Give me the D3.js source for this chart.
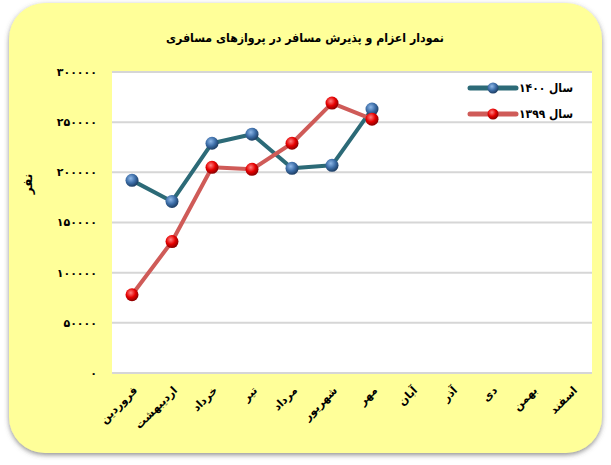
<!DOCTYPE html>
<html><head><meta charset="utf-8">
<script src="https://cdn.jsdelivr.net/npm/d3@7"></script>
<style>body{margin:0;background:#fff;}svg{display:block;}</style>
</head><body>
<svg id="c" width="611" height="465"></svg>
<script>
const months = ["فروردین","اردیبهشت","خرداد","تیر","مرداد","شهریور","مهر","آبان","آذر","دی","بهمن","اسفند"];
const series1400 = [192000,171000,229000,238000,204000,207000,263000];
const series1399 = [78000,131000,205000,203000,229000,269000,253000];
const seriesNames = ["سال ۱۴۰۰","سال ۱۳۹۹"];
const yTicks = [0,50000,100000,150000,200000,250000,300000];
const yTickLabels = ["۰","۵۰۰۰۰","۱۰۰۰۰۰","۱۵۰۰۰۰","۲۰۰۰۰۰","۲۵۰۰۰۰","۳۰۰۰۰۰"];
const title = "نمودار اعزام و پذیرش مسافر در پروازهای مسافری";
const yTitle = "نفر";

const svg = d3.select("#c");
const FONT = "'DejaVu Sans', sans-serif";
const defs = svg.append("defs");
const f = defs.append("filter").attr("id","sh").attr("x","-5%").attr("y","-5%").attr("width","110%").attr("height","110%");
f.append("feDropShadow").attr("dx",0).attr("dy",2).attr("stdDeviation",2.5).attr("flood-color","#555").attr("flood-opacity",0.65);
function sphere(id, c0, c1, c2){
  const g = defs.append("radialGradient").attr("id",id).attr("cx","40%").attr("cy","35%").attr("r","65%");
  g.append("stop").attr("offset","0%").attr("stop-color",c0);
  g.append("stop").attr("offset","55%").attr("stop-color",c1);
  g.append("stop").attr("offset","100%").attr("stop-color",c2);
}
sphere("gb","#8fb8e8","#3d6ea8","#1c3d63");
sphere("gr","#ff8080","#e60000","#8a0000");

svg.append("rect").attr("x",9).attr("y",3).attr("width",593).attr("height",450).attr("rx",36)
  .attr("fill","#ffff99").attr("filter","url(#sh)");

const x = d3.scaleBand().domain(months).range([112,592]);
const y = d3.scaleLinear().domain([0,300000]).range([373,72]);

svg.append("rect").attr("x",112).attr("y",72).attr("width",480).attr("height",301).attr("fill","#fff");

svg.append("g").selectAll("line").data(yTicks).join("line")
  .attr("x1",112).attr("x2",592).attr("y1",d=>y(d)).attr("y2",d=>y(d))
  .attr("stroke","#d6d6d6").attr("stroke-width",2);

svg.append("g").selectAll("text").data(yTicks).join("text")
  .attr("x",97).attr("y",d=>y(d)).attr("dy","0.35em").attr("text-anchor","end")
  .attr("font-family",FONT).attr("font-weight","bold").attr("font-size",11)
  .text((d,i)=>yTickLabels[i]);

svg.append("g").selectAll("text").data(months).join("text")
  .attr("transform",d=>`translate(${x(d)+x.bandwidth()/2+6},${391}) rotate(-45)`)
  .attr("text-anchor","end")
  .attr("font-family",FONT).attr("font-weight","bold").attr("font-size",11)
  .text(d=>d);

svg.append("text").attr("x",305).attr("y",42).attr("text-anchor","middle")
  .attr("font-family",FONT).attr("font-weight","bold").attr("font-size",12)
  .attr("textLength",278).attr("lengthAdjust","spacingAndGlyphs").text(title);

svg.append("text").attr("transform","translate(32,184) rotate(-90)").attr("text-anchor","middle")
  .attr("font-family",FONT).attr("font-weight","bold").attr("font-size",12).text(yTitle);

const cx = (d,i)=>x(months[i])+x.bandwidth()/2;
const line = d3.line().x((d,i)=>cx(d,i)).y(d=>y(d));
const specs = [
  {data:series1400, color:"#2c6a77", grad:"url(#gb)"},
  {data:series1399, color:"#cf5b58", grad:"url(#gr)"}
];
specs.forEach(s=>{
  svg.append("path").datum(s.data).attr("d",line).attr("fill","none")
    .attr("stroke",s.color).attr("stroke-width",4).attr("stroke-linejoin","round");
});
specs.forEach(s=>{
  svg.append("g").selectAll("circle").data(s.data).join("circle")
    .attr("cx",cx).attr("cy",d=>y(d)).attr("r",6.5).attr("fill",s.grad);
});

// legend
const lg = svg.append("g");
specs.forEach((s,i)=>{
  const ly = 88 + i*26;
  lg.append("line").attr("x1",470).attr("x2",516).attr("y1",ly).attr("y2",ly)
    .attr("stroke",s.color).attr("stroke-width",5).attr("stroke-linecap","round");
  lg.append("circle").attr("cx",493).attr("cy",ly).attr("r",5.5).attr("fill",s.grad);
  lg.append("text").attr("x",573).attr("y",ly).attr("dy","0.35em").attr("text-anchor","end")
    .attr("font-family",FONT).attr("font-weight","bold").attr("font-size",12)
    .attr("textLength",54).attr("lengthAdjust","spacingAndGlyphs").text(seriesNames[i]);
});
</script>
</body></html>
